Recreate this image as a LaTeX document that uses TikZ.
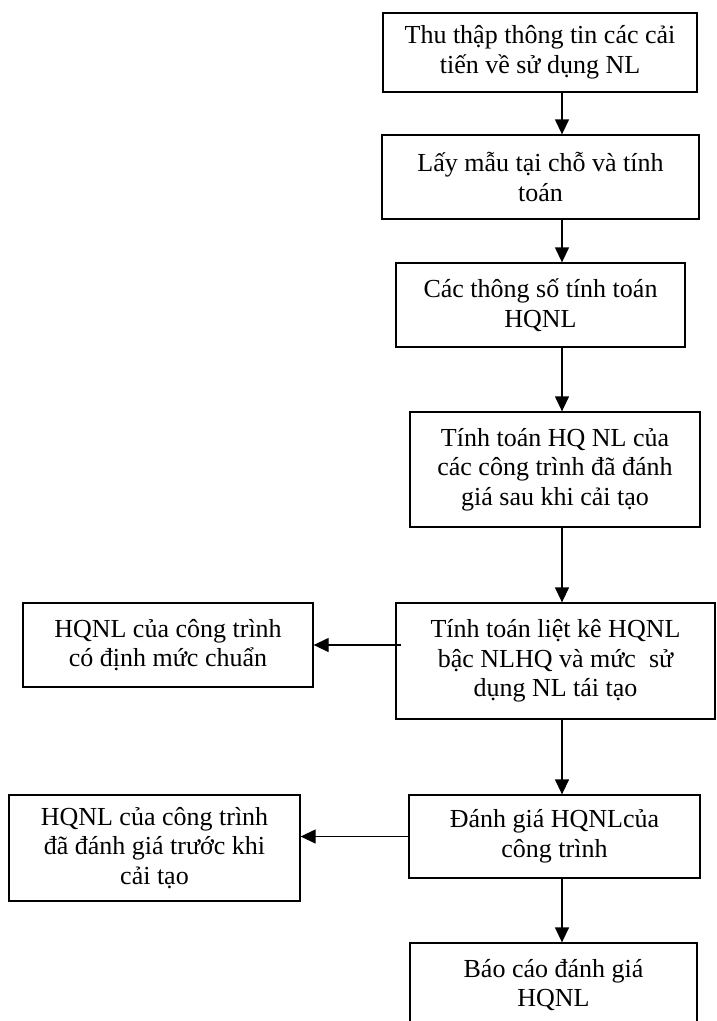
\documentclass[tikz,border=0pt]{standalone}
\usepackage{fontspec}
\setmainfont{Liberation Serif}
\usetikzlibrary{arrows.meta,positioning}

\begin{document}
\begin{tikzpicture}
[x=1pt,y=-1pt,
   every node/.style={font=\fontsize{26}{29.5}\selectfont,align=center},
   stepbox/.style={draw,line width=1.3pt,inner sep=0pt,
     execute at begin node={\rule{0pt}{32pt}}},
   flow/.style={line width=1.3pt,-{Triangle[width=14pt,length=15pt]}}]
\useasboundingbox (0,0) rectangle (716,1021);
\coordinate (spine) at (562,0);

\node[stepbox,minimum width=314pt,minimum height=79pt] (x1) at (540,52.5)
    {Thu thập thông tin các cải\\tiến về sử dụng NL};
\node[stepbox,minimum width=317pt,minimum height=84pt] (x2) at (540.5,177)
    {Lấy mẫu tại chỗ và tính\\toán};
\node[stepbox,minimum width=289pt,minimum height=84pt] (x3) at (540.5,305)
    {Các thông số tính toán\\HQNL};
\node[stepbox,minimum width=290pt,minimum height=115pt] (x4) at (555,469.5)
    {Tính toán HQ NL của\\các công trình đã đánh\\giá sau khi cải tạo};
\node[stepbox,minimum width=319pt,minimum height=116pt] (x5) at (555.5,661)
    {Tính toán liệt kê HQNL\\bậc NLHQ và mức\ \ sử\\dụng NL tái tạo};
\node[stepbox,minimum width=291pt,minimum height=83pt] (x6) at (554.5,836.5)
    {Đánh giá HQNLcủa\\công trình};
\node[stepbox,minimum width=287pt,minimum height=84pt] (x7) at (553.5,985)
    {Báo cáo đánh giá\\HQNL};

\node[stepbox,minimum width=290pt,minimum height=84pt] (y1) at (168,645)
    {HQNL của công trình\\có định mức chuẩn};
\node[stepbox,minimum width=291pt,minimum height=106pt] (y2) at (154.5,848)
    {HQNL của công trình\\đã đánh giá trước khi\\cải tạo};

\draw[flow] (x1.south -| spine) -- (x2.north -| spine);
\draw[flow] (x2.south -| spine) -- (x3.north -| spine);
\draw[flow] (x3.south -| spine) -- (x4.north -| spine);
\draw[flow] (x4.south -| spine) -- (x5.north -| spine);
\draw[flow] (x5.south -| spine) -- (x6.north -| spine);
\draw[flow] (x6.south -| spine) -- (x7.north -| spine);
\draw[flow] ([xshift=6pt]x5.west |- y1.east) -- (y1.east);
\draw[flow] (x6.west) -- (x6.west -| y2.east);
\end{tikzpicture}
\end{document}
